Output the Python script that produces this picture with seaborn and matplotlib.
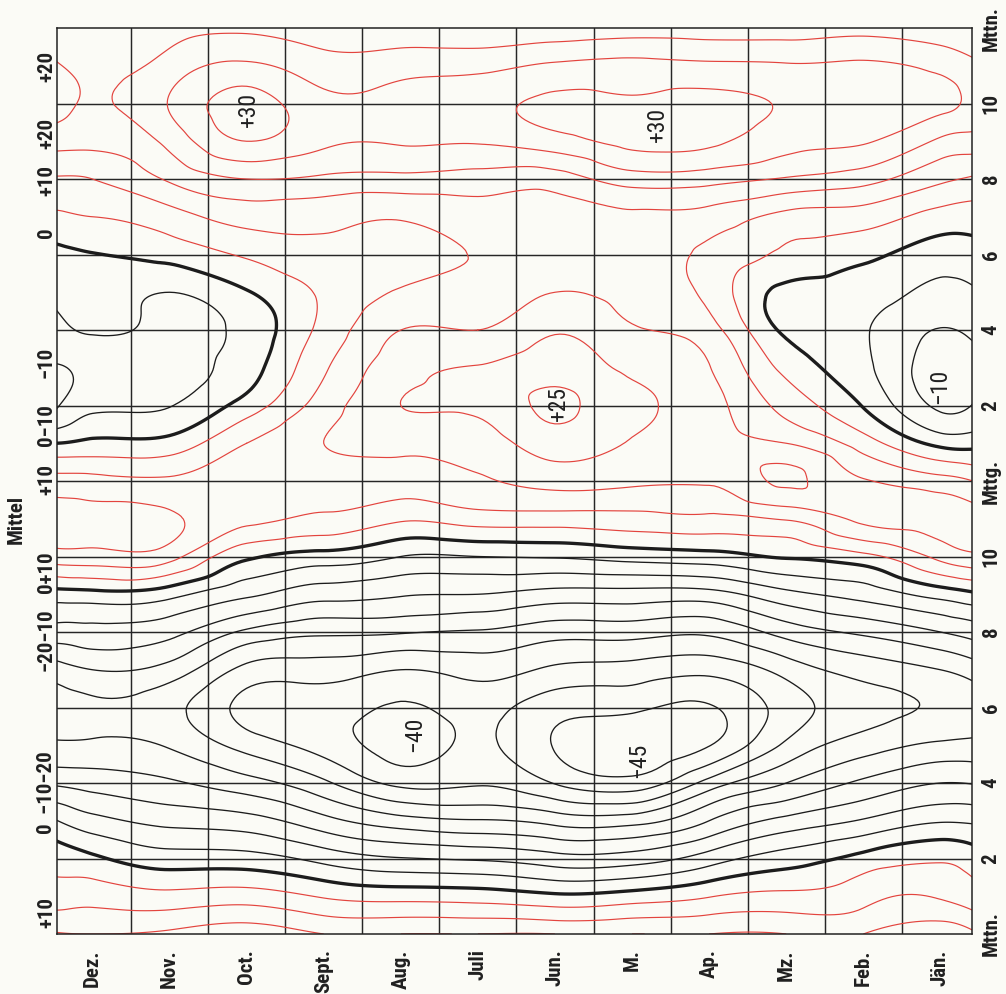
import numpy as np
import matplotlib
matplotlib.use("Agg")
import matplotlib.pyplot as plt
import matplotlib.tri as mtri
import matplotlib.transforms as mtrans
from matplotlib import font_manager as fm
import seaborn as sns

sns.set_theme(style="white")

# pick a narrow face if one is installed
_names = {f.name for f in fm.fontManager.ttflist}
narrow_family = "DejaVu Sans"
for cand in ["Liberation Sans Narrow", "DejaVu Sans Condensed", "Roboto Condensed", "Open Sans Condensed"]:
    if cand in _names:
        narrow_family = cand
        break
plt.rcParams['font.family'] = [narrow_family, 'DejaVu Sans']

# ---------------- data ----------------
months = ["Dez.", "Nov.", "Oct.", "Sept.", "Aug.", "Juli", "Jun.", "M.", "Ap.", "Mz.", "Feb.", "Jän."]
hour_ticks = [0, 2, 4, 6, 8, 10, 12, 14, 16, 18, 20, 22, 24]
hour_labels = ["Mttn.", "2", "4", "6", "8", "10", "Mttg.", "2", "4", "6", "8", "10", "Mttn."]
hours = list(range(25))
col_pos = [0.0, 0.5, 1.5, 2.5, 3.5, 4.5, 5.5, 6.5, 7.5, 8.5, 9.5, 10.5, 11.5, 12.0]

# values (hour 0 .. 24) read along each column
col_dez_edge = [15.5, 7.5, 3.0, -4.5, -15.8, -24.2, -26.9, -22.5, -12, -2.2, 12.7, 17, 12, 0, -11, -10.5, -7, -4, -1.5, 4, 9.5, 17, 22, 20.5, 18]
col_dez = [15, 8, 1, -8.3, -17, -24.1, -26.1, -20, -11.6, -1.7, 13, 16.5, 11.7, 1.2, -6.2, -8.5, -4.4, -2.3, -0.2, 5, 10, 16.4, 19.5, 18.5, 16]
col_nov = [16, 6.6, -2.7, -11.5, -19.3, -25.5, -28.3, -22, -13.4, -3.2, 11.9, 15.8, 11, 1.9, -5.2, -6.9, -6.1, -5, 1.9, 7.8, 15.7, 21.5, 25.3, 22.1, 18]
col_oct = [18, 7.5, -3, -13, -23, -32, -36.5, -31.5, -21, -9, 1, 11.6, 13.2, 10, 2.2, -2.2, -3.4, -0.4, 5.7, 12.1, 20, 30, 32, 26, 19]
col_sept = [15, 4.5, -6.7, -18.3, -29, -37, -38, -32.5, -24, -13, -2, 9, 12.5, 15, 12.3, 9.3, 6.5, 5.8, 8.3, 11.7, 19, 26, 26.5, 22.2, 17]
col_aug = [15, 3.2, -9.7, -23, -36.3, -41.7, -40.5, -35, -24.5, -14.5, -5, 5.8, 12.5, 16.7, 20, 18, 15, 10.5, 8.5, 10.5, 18.5, 25.5, 27, 23, 16]
col_juli = [15, 2.7, -10.7, -24.6, -35.5, -39.3, -38.5, -33, -25.5, -15, -5, 7.5, 14.4, 17.5, 21, 20.3, 15, 12, 10.2, 12.5, 18, 25.5, 28.5, 23.5, 16]
col_jun = [15, 1, -13, -26.8, -40.3, -45.3, -43, -36, -28, -17, -4.5, 7.7, 16.9, 22.5, 26, 23, 19.5, 15, 12.5, 13.5, 17.5, 28, 31, 25.8, 16]
col_mai = [15, 2.2, -12.5, -27, -43, -48, -44, -37, -28, -17, -3, 8.2, 16, 19.7, 21, 19, 15.5, 13.5, 12.5, 14, 22.5, 31.5, 31, 26.5, 17]
col_apr = [15, 4.7, -7.5, -20, -33, -45.2, -45.5, -38.5, -29, -17, -2, 8.8, 15.5, 17.3, 17, 15.2, 12, 8.5, 8.8, 13, 22, 31, 31.5, 26, 17]
col_mz = [15, 6.3, -2.5, -13.5, -25, -34, -37.8, -33, -23, -11.5, 0.5, 10.5, 20.8, 15, 8.2, 3.5, -1, -1.5, 4, 8.5, 19.5, 27, 29.5, 25.5, 17]
col_feb = [15, 8.3, 1.7, -9.5, -19, -27.5, -32, -28, -19, -8, 3.5, 16.3, 15.5, 7.5, -0.3, -3.8, -4.5, -2.5, 1.2, 7.5, 17, 25.5, 28, 25.8, 18]
col_jan = [19, 9.5, 4.3, -5.5, -15, -24, -29.5, -25, -15, -3, 11.5, 16.8, 12, -1.5, -11, -12.5, -10.2, -6.5, -2.5, 3, 11, 19, 26.5, 23.5, 17]
col_jan_edge = [15, 6.8, 1.8, -6, -15.5, -23.5, -27.3, -22, -12.5, -0.5, 14, 17, 9.4, -1.7, -9, -11, -8.5, -5.2, -1.7, 2.5, 9, 18, 22.5, 20.5, 17]

mittel_texts = ["+20", "+20", "+10", "0", "\u221210", "0\u221210", "+10", "0+10", "\u221220\u221210", "0  \u221210\u221220", "+10"]
mittel_hours = [22.97, 21.22, 19.97, 18.57, 15.13, 13.48, 12.03, 9.59, 7.79, 3.74, 0.56]

inline_texts = ["+30", "+30", "+25", "\u221210", "\u221240", "\u221245"]
inline_x = [2.52, 7.83, 6.54, 11.49, 4.68, 7.58]
inline_h = [21.85, 21.45, 14.05, 14.5, 5.3, 4.6]

# ---------------- build field ----------------
cols = [col_dez_edge, col_dez, col_nov, col_oct, col_sept, col_aug, col_juli,
        col_jun, col_mai, col_apr, col_mz, col_feb, col_jan, col_jan_edge]
Z = np.array(cols, dtype=float).T          # (hours, columns)
X, Y = np.meshgrid(np.array(col_pos), np.array(hours, dtype=float))
tri = mtri.Triangulation(X.ravel(), Y.ravel())
refiner = mtri.UniformTriRefiner(tri)
tri_f, z_f = refiner.refine_field(Z.ravel(), subdiv=4)

# ---------------- figure ----------------
W, H = 1006, 994
fig = plt.figure(figsize=(W / 100, H / 100), dpi=100)
bg = "#fbfbf6"
fig.patch.set_facecolor(bg)
left, right, top, bottom = 57, 972, 28, 934
ax = fig.add_axes([left / W, 1 - bottom / H, (right - left) / W, (bottom - top) / H])
ax.set_facecolor(bg)

red = "#e3443e"
blk = "#1c1c1c"
txt = "#202020"

# grid
for i in range(1, 12):
    ax.axvline(i, color="#262626", lw=1.05, zorder=1)
for h in range(2, 24, 2):
    ax.axhline(h, color="#262626", lw=1.05, zorder=1)

pos_levels = [5, 10, 15, 20, 25, 30]
neg_levels = [-45, -40, -35, -30, -25, -20, -15, -10, -5]
ax.tricontour(tri_f, z_f, levels=pos_levels, colors=red, linewidths=0.85, linestyles="solid", zorder=2)
ax.tricontour(tri_f, z_f, levels=neg_levels, colors=blk, linewidths=0.95, linestyles="solid", zorder=2)
ax.tricontour(tri_f, z_f, levels=[0], colors=blk, linewidths=2.4, linestyles="solid", zorder=3)

ax.set_xlim(0.04, 11.91)
ax.set_ylim(0, 24)
for s in ax.spines.values():
    s.set_color("#222222")
    s.set_linewidth(1.1)

lab_kw = dict(fontsize=15, fontweight="bold", color=txt)

# month labels
ax.set_xticks([i + 0.5 for i in range(12)])
ax.set_xticklabels(months, rotation=90, **lab_kw)
ax.tick_params(axis="x", length=0, pad=11)

# hour labels on the right
ax.yaxis.tick_right()
ax.set_yticks(hour_ticks)
ax.set_yticklabels(hour_labels, rotation=90, va="center", **lab_kw)
ax.tick_params(axis="y", length=0, pad=7)

# mean labels on the left
trans = mtrans.blended_transform_factory(ax.transAxes, ax.transData)
for t, h in zip(mittel_texts, mittel_hours):
    ax.text(-0.0115, h, t, rotation=90, ha="center", va="center",
            transform=trans, clip_on=False, **lab_kw)
ax.text(-0.045, 10.97, "Mittel", rotation=90, ha="center", va="center",
        transform=trans, clip_on=False, **lab_kw)

# inline labels
for t, x, h in zip(inline_texts, inline_x, inline_h):
    ax.text(x, h, t, rotation=90, ha="center", va="center", fontsize=17,
            color=txt, zorder=4)

fig.savefig("out.png", dpi=100, facecolor=bg)
